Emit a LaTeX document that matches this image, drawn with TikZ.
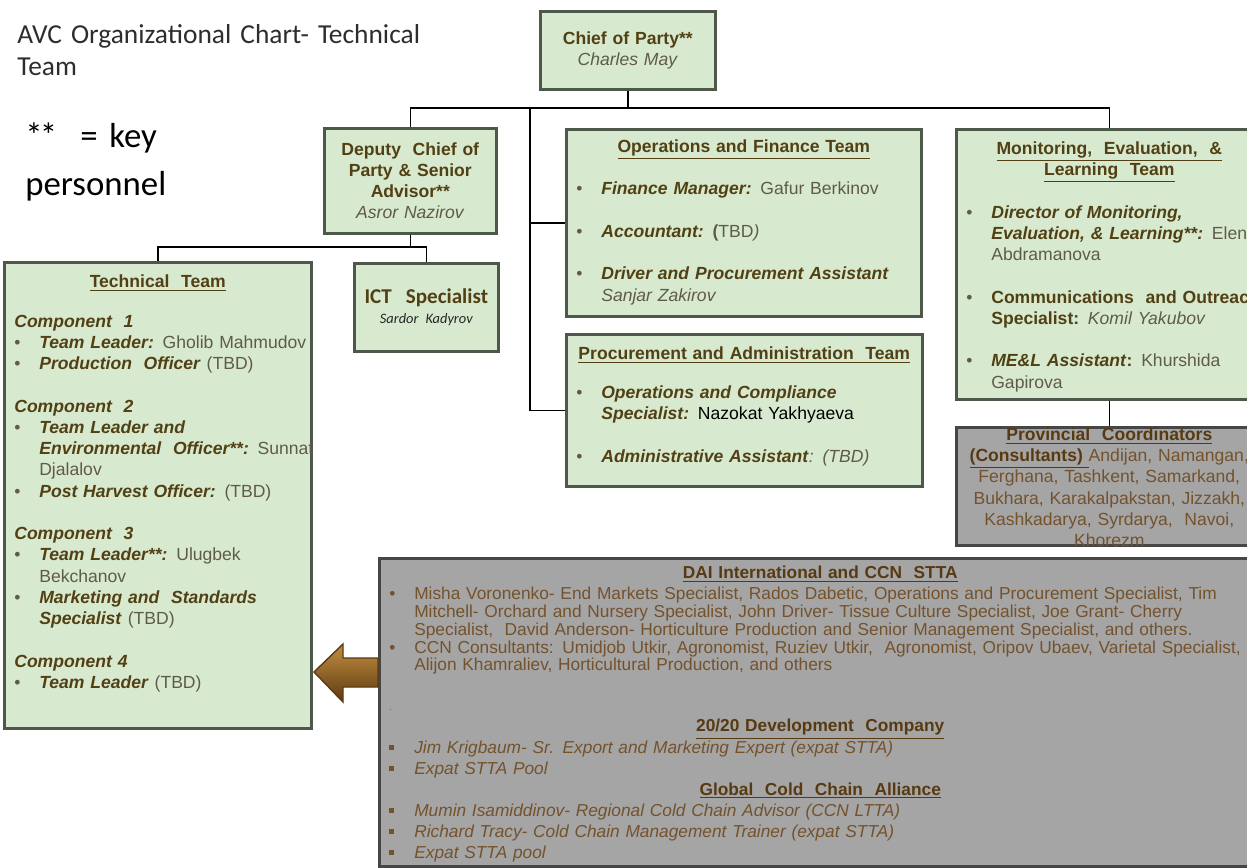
\documentclass[tikz,border=0pt]{standalone}
\usepackage{fontspec}
\setmainfont{Liberation Sans}
\newfontfamily\calfont{Carlito}
\usetikzlibrary{
    calc,positioning,shapes,arrows
}
\definecolor{boxgreen}{RGB}{215,234,207}
\definecolor{edgegray}{RGB}{78,88,74}
\definecolor{headbrown}{RGB}{82,64,20}
\definecolor{plaingray}{RGB}{96,90,74}
\definecolor{boxgray}{RGB}{165,165,165}
\definecolor{edgedark}{RGB}{70,70,70}
\definecolor{graytext}{RGB}{116,82,44}
\definecolor{grayhead}{RGB}{88,58,18}
\definecolor{arrowlight}{RGB}{196,142,66}
\definecolor{arrowmid}{RGB}{140,92,32}
\definecolor{arrowdark}{RGB}{92,58,16}
\definecolor{titlegray}{RGB}{45,45,45}
\newcommand{\pitem}{\par\rightskip=0pt plus 1fil minus 3cm\hyphenpenalty=10000
    \hangindent=0.5cm\hangafter=1\makebox[0.5cm][l]{\textbullet}}
\newcommand{\sitem}{\par\rightskip=0pt plus 1fil minus 3cm\hyphenpenalty=10000
    \hangindent=0.5cm\hangafter=1\makebox[0.5cm][l]{\rule[0.2em]{0.28em}{0.28em}}}
\newcommand{\lbl}[1]{\leavevmode{\color{headbrown}\textbf{\textit{#1}}}}
\newcommand{\head}[1]{\leavevmode{\color{headbrown}\underline{\textbf{#1}}}}
\newcommand{\ghead}[1]{\leavevmode{\color{grayhead}\underline{\textbf{#1}}}}

\begin{document}
\begin{tikzpicture}[x=0.02cm,y=-0.02cm,
    box/.style={draw=edgegray, line width=1.5pt, fill=boxgreen, anchor=north west,
        inner xsep=0.2cm, inner ysep=0pt, align=left, text=plaingray,
        font=\fontsize{10}{12.1}\selectfont},
    graybox/.style={box, draw=edgedark, fill=boxgray, text=graytext},
    link/.style={line width=0.9pt, black},
    arrowshape/.style={draw=arrowdark, line width=0.8pt, top color=arrowlight,
        middle color=arrowmid, bottom color=arrowdark}]
                \useasboundingbox (0,0) rectangle (1247,868);
                \fill[white] (0,0) rectangle (1247,868);
                \clip (0,0) rectangle (1247,868);
                \node[anchor=base west, inner sep=0pt, text width=9cm, align=left, text=titlegray,
                    font=\calfont\fontsize{15.6}{18.1}\selectfont] (t) at (17,44)
                    {AVC Organizational Chart- Technical\\Team};
                \node[anchor=base west, inner sep=0pt, text width=5cm, align=left, text=black,
                    font=\calfont\fontsize{19.8}{27.2}\selectfont] (k) at (25,148)
                    {*\kern-0.08em*\ \ = key\\personnel};
                \node[box, text width=3.1cm, minimum height=1.56cm, align=center] (1) at (539,10)
                    {\textbf{\color{headbrown}Chief of Party**}\\\textit{Charles May}};
                \node[box, text width=3.04cm, minimum height=2.1cm, align=center] (2) at (323,127)
                    {\textbf{\color{headbrown}Deputy\ \ Chief of\\Party \& Senior\\Advisor**}\\\textit{Asror Nazirov}};
                \node[box, text width=6.7cm, text height=0.46cm, text depth=3.28cm] (3) at (565,128) {
                    {\centering\head{Operations and Finance Team}\par}
                    \vspace{\baselineskip}
                    \pitem \lbl{Finance Manager:} Gafur Berkinov
                    \par\vspace{\baselineskip}
                    \pitem \lbl{Accountant:} \textbf{(}TBD\textit{)}
                    \par\vspace{\baselineskip}
                    \pitem \lbl{Driver and Procurement Assistant}\newline\textit{Sanjar Zakirov}\par
                };
                \node[box, text width=6.72cm, text height=0.5cm, text depth=2.54cm] (4) at (565,333) {
                    {\centering\head{Procurement and Administration\ \ Team}\par}
                    \vspace{0.36cm}
                    \pitem \lbl{Operations and Compliance}\newline\lbl{Specialist:} {\color{black}Nazokat Yakhyaeva}
                    \par\vspace{\baselineskip}
                    \pitem \lbl{Administrative Assistant}\textit{: (TBD)}\par
                };
                \node[box, text width=5.72cm, text height=0.5cm, text depth=4.9cm] (5) at (955,128) {
                    {\centering\head{Monitoring,\ \ Evaluation,\ \ \&}\\\head{Learning\ \ Team}\par}
                    \vspace{\baselineskip}
                    \pitem \lbl{Director of Monitoring,}\newline\lbl{Evaluation, \& Learning**:} Elena\newline Abdramanova
                    \par\vspace{\baselineskip}
                    \pitem {\color{headbrown}\textbf{Communications\ \ and Outreach}\newline\textbf{Specialist:}} \textit{Komil Yakubov}
                    \par\vspace{\baselineskip}
                    \pitem \lbl{ME\&L Assistant}{\color{headbrown}\textbf{:}} Khurshida\newline Gapirova\par
                };
                \node[graybox, text width=5.72cm, text height=0.26cm, text depth=2.1cm, align=center] (6) at (955,426) {
                    \ghead{Provincial\ \ Coordinators}\\
                    \ghead{(Consultants)\ }Andijan, Namangan,\\
                    Ferghana, Tashkent, Samarkand,\\
                    Bukhara, Karakalpakstan, Jizzakh,\\
                    Kashkadarya, Syrdarya,\ \ Navoi,\\
                    Khorezm
                };
                \node[box, text width=5.74cm, text height=0.5cm, text depth=8.82cm] (7) at (3,261) {
                    {\centering\head{Technical\ \ Team}\par}
                    \vspace{0.37cm}
                    \lbl{Component\ \ 1}
                    \pitem \lbl{Team Leader:} Gholib Mahmudov
                    \pitem \lbl{Production\ \ Officer} (TBD)
                    \par\vspace{\baselineskip}
                    \lbl{Component\ \ 2}
                    \pitem \lbl{Team Leader and}\newline\lbl{Environmental\ \ Officer**:} Sunnat\newline Djalalov
                    \pitem \lbl{Post Harvest Officer:} (TBD)
                    \par\vspace{\baselineskip}
                    \lbl{Component\ \ 3}
                    \pitem \lbl{Team Leader**:} Ulugbek\newline Bekchanov
                    \pitem \lbl{Marketing and\ \ Standards}\newline\lbl{Specialist} (TBD)
                    \par\vspace{\baselineskip}
                    \lbl{Component 4}
                    \pitem \lbl{Team Leader} (TBD)\par
                };
                \node[box, text width=2.48cm, minimum height=1.76cm, align=center,
                    font=\calfont\fontsize{12}{11.3}\selectfont] (8) at (353,262)
                    {\textbf{\color{headbrown}ICT\ \ Specialist}\\{\fontsize{8.2}{9}\selectfont\textit{\color{black!85}Sardor Kadyrov}}};
                \node[graybox, text width=17.24cm, text height=0.4cm, text depth=5.76cm,
                    font=\fontsize{9.85}{10.2}\selectfont] (9) at (378,557) {
                    {\centering\ghead{DAI International and CCN\ \ STTA}\par}
                    \vspace{0.06cm}
                    \pitem Misha Voronenko- End Markets Specialist, Rados Dabetic, Operations and Procurement Specialist, Tim\newline
                    Mitchell- Orchard and Nursery Specialist, John Driver- Tissue Culture Specialist, Joe Grant- Cherry\newline
                    Specialist,\ \ David Anderson- Horticulture Production and Senior Management Specialist, and others.
                    \pitem CCN Consultants: Umidjob Utkir, Agronomist, Ruziev Utkir,\ \ Agronomist, Oripov Ubaev, Varietal Specialist,\newline
                    Alijon Khamraliev, Horticultural Production, and others
                    \par\vspace{0.44cm}
                    {\tiny .}\par
                    \fontsize{9.85}{12}\selectfont
                    {\centering\ghead{20/20 Development\ \ Company}\par}
                    \sitem \textit{Jim Krigbaum- Sr. Export and Marketing Expert (expat STTA)}
                    \sitem \textit{Expat STTA Pool}
                    \par{\centering\ghead{Global\ \ Cold\ \ Chain\ \ Alliance}\par}
                    \sitem \textit{Mumin Isamiddinov- Regional Cold Chain Advisor (CCN LTTA)}
                    \sitem \textit{Richard Tracy- Cold Chain Management Trainer (expat STTA)}
                    \sitem \textit{Expat STTA pool}\par
                };
                \coordinate (a) at (1.south |- 0,108);
                \coordinate (b) at (530,108);
                \coordinate (c) at (2.south |- 0,247);
                \draw[link] (1.south) -- (a);
                \draw[link] (a) -| (2.north);
                \draw[link] (a) -| (5.north);
                \draw[link] (b) |- (3.west);
                \draw[link] (b) |- (4.west);
                \draw[link] (2.south) -- (c);
                \draw[link] (c) -| (7.north);
                \draw[link] (c) -| (8.north);
                \draw[link] (5.south) -- (6.north);
                \draw[arrowshape] (9.west |- 0,658) -- (343,658) -- (343,644) -- (314,672)
                    -- (343,702) -- (343,687) -- (9.west |- 0,687) -- cycle;
\end{tikzpicture}
\end{document}
